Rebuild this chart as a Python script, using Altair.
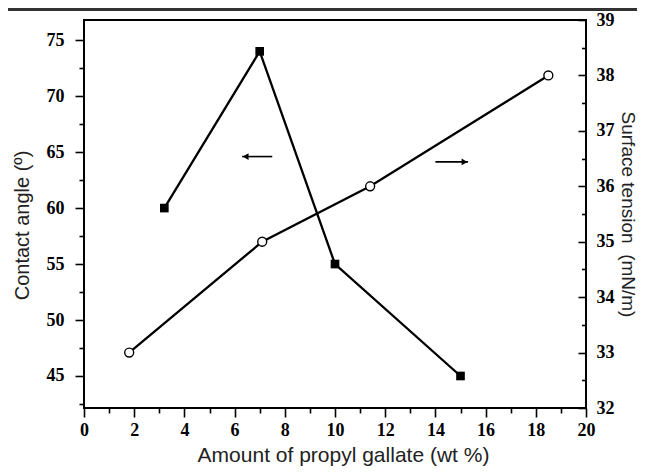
import altair as alt
import pandas as pd

# ---- data ----
ca_x = [3.2, 7.0, 10.0, 15.0]          # contact angle series (filled squares)
ca_y = [60, 74, 55, 45]
st_x = [1.8, 7.1, 11.4, 18.5]          # surface tension series (open circles)
st_y = [33, 35, 36, 38]

x_ticks = [0, 1, 2, 3, 4, 5, 6, 7, 8, 9, 10, 11, 12, 13, 14, 15, 16, 17, 18, 19, 20]
left_ticks = [42.5, 45, 47.5, 50, 52.5, 55, 57.5, 60, 62.5, 65, 67.5, 70, 72.5, 75]
right_labels = [32, 33, 34, 35, 36, 37, 38, 39]
right_ticks = [32, 32.5, 33, 33.5, 34, 34.5, 35, 35.5, 36, 36.5, 37, 37.5, 38, 38.5, 39]

# annotation arrows (data coordinates)
arrow_left_x = [6.3, 7.5]
arrow_left_y = [64.6]
arrow_right_x = [14.0, 15.3]
arrow_right_y = [36.44]

X_DOMAIN = [0, 20]
L_DOMAIN = [42.14, 76.8]
R_DOMAIN = [32, 39]

LABEL_FONT = "Liberation Serif"
TITLE_FONT = "Liberation Sans"
LABEL_SIZE = 18

ca_df = pd.DataFrame({"x": ca_x, "y": ca_y})
st_df = pd.DataFrame({"x": st_x, "y": st_y})
al_df = pd.DataFrame({"x1": [arrow_left_x[0]], "x2": [arrow_left_x[1]],
                      "hx": [arrow_left_x[0] + 0.14], "y": arrow_left_y})
ar_df = pd.DataFrame({"x1": [arrow_right_x[0]], "x2": [arrow_right_x[1]],
                      "hx": [arrow_right_x[1] - 0.14], "y": arrow_right_y})
dummy = pd.DataFrame({"k": [0]})

x_axis = alt.Axis(
    values=x_ticks,
    labelExpr="datum.value % 2 === 0 ? datum.label : ''",
    tickSize={"condition": {"test": "datum.value % 2 === 0", "value": 9}, "value": 5},
    tickColor="black", tickWidth=1.6,
    labelPadding=4, labelFont=LABEL_FONT, labelFontWeight="bold", labelFontSize=LABEL_SIZE,
    labelColor="black", labelFlush=False, labelOverlap=False,
    title="Amount of propyl gallate (wt %)", titleFont=TITLE_FONT, titleFontSize=21,
    titleFontWeight="normal", titleColor="#222", titleBaseline="alphabetic",
    titleX=259, titleY=53,
    domain=False, grid=False,
)

left_axis = alt.Axis(
    orient="left",
    values=left_ticks,
    labelExpr="datum.value % 5 === 0 ? datum.label : ''",
    tickSize={"condition": {"test": "datum.value % 5 === 0", "value": 9}, "value": 5},
    tickColor="black", tickWidth=1.6,
    labelPadding=11, labelFont=LABEL_FONT, labelFontWeight="bold", labelFontSize=LABEL_SIZE,
    labelColor="black", labelFlush=False, labelOverlap=False,
    title="Contact angle (º)", titleFont=TITLE_FONT, titleFontSize=20,
    titleFontWeight="normal", titleColor="#222", titleBaseline="alphabetic",
    titleAngle=270, titleX=-56, titleY=205,
    domain=False, grid=False,
)

right_axis = alt.Axis(
    orient="right",
    values=right_labels,
    ticks=False, tickSize=0,
    labelPadding=10, labelFont=LABEL_FONT, labelFontWeight="bold", labelFontSize=LABEL_SIZE,
    labelColor="black", labelFlush=False, labelOverlap=False,
    title="Surface tension\u00a0 (mN/m)", titleFont=TITLE_FONT, titleFontSize=19,
    titleFontWeight="normal", titleColor="#222", titleBaseline="alphabetic",
    titleAngle=90, titleX=35, titleY=194,
    domain=False, grid=False,
)

# inward ticks of the right axis: a left-oriented axis moved to the right edge
right_tick_axis = alt.Axis(
    orient="left", offset=-502,
    values=right_ticks,
    tickSize={"condition": {"test": "datum.value % 1 === 0", "value": 8}, "value": 4.5},
    tickColor="black", tickWidth=1.6,
    labels=False, domain=False, grid=False, title=None,
)


def xe(field):
    return alt.X(field, type="quantitative",
                 scale=alt.Scale(domain=X_DOMAIN, nice=False, zero=False), axis=x_axis)


def yl(field):
    return alt.Y(field, type="quantitative",
                 scale=alt.Scale(domain=L_DOMAIN, nice=False, zero=False), axis=left_axis)


def yr(field):
    return alt.Y(field, type="quantitative",
                 scale=alt.Scale(domain=R_DOMAIN, nice=False, zero=False), axis=right_axis)


# ---- left (contact angle) group ----
ca_line = alt.Chart(ca_df).mark_line(color="black", strokeWidth=2.3).encode(x=xe("x"), y=yl("y"))
ca_pts = alt.Chart(ca_df).mark_point(shape="square", filled=True, color="black",
                                     size=75, opacity=1).encode(x=xe("x"), y=yl("y"))
al_rule = alt.Chart(al_df).mark_rule(color="black", strokeWidth=1.6).encode(
    x=xe("x1"), x2="x2:Q", y=yl("y"))
al_head = alt.Chart(al_df).mark_point(shape="triangle-left", filled=True, color="black",
                                      size=45, opacity=1).encode(x=xe("hx"), y=yl("y"))
top_bar = alt.Chart(dummy).mark_rule(color="#333", strokeWidth=3).encode(
    x=alt.value(-80), x2=alt.value(570), y=alt.value(-10.5))

left_group = alt.layer(ca_line, ca_pts, al_rule, al_head, top_bar)

# ---- right (surface tension) group ----
st_line = alt.Chart(st_df).mark_line(color="black", strokeWidth=2.3).encode(x=xe("x"), y=yr("y"))
st_pts = alt.Chart(st_df).mark_point(shape="circle", filled=True, fill="white", stroke="black",
                                     strokeWidth=1.4, size=80, opacity=1).encode(x=xe("x"), y=yr("y"))
ar_rule = alt.Chart(ar_df).mark_rule(color="black", strokeWidth=1.6).encode(
    x=xe("x1"), x2="x2:Q", y=yr("y"))
ar_head = alt.Chart(ar_df).mark_point(shape="triangle-right", filled=True, color="black",
                                      size=45, opacity=1).encode(x=xe("hx"), y=yr("y"))

right_group = alt.layer(st_line, st_pts, ar_rule, ar_head)

tick_layer = alt.Chart(st_df).mark_point(opacity=0).encode(
    x=xe("x"),
    y=alt.Y("y", type="quantitative",
            scale=alt.Scale(domain=R_DOMAIN, nice=False, zero=False), axis=right_tick_axis),
)

chart = (
    alt.layer(left_group, right_group, tick_layer)
    .resolve_scale(y="independent")
    .properties(
        width=502, height=388,
        padding={"left": 76, "top": 12, "right": 51, "bottom": 58},
        autosize=alt.AutoSizeParams(type="none"),
        background="white",
    )
    .configure_view(stroke="black", strokeWidth=2)
)

chart.save("out.html", embed_options={"renderer": "svg", "actions": False})
